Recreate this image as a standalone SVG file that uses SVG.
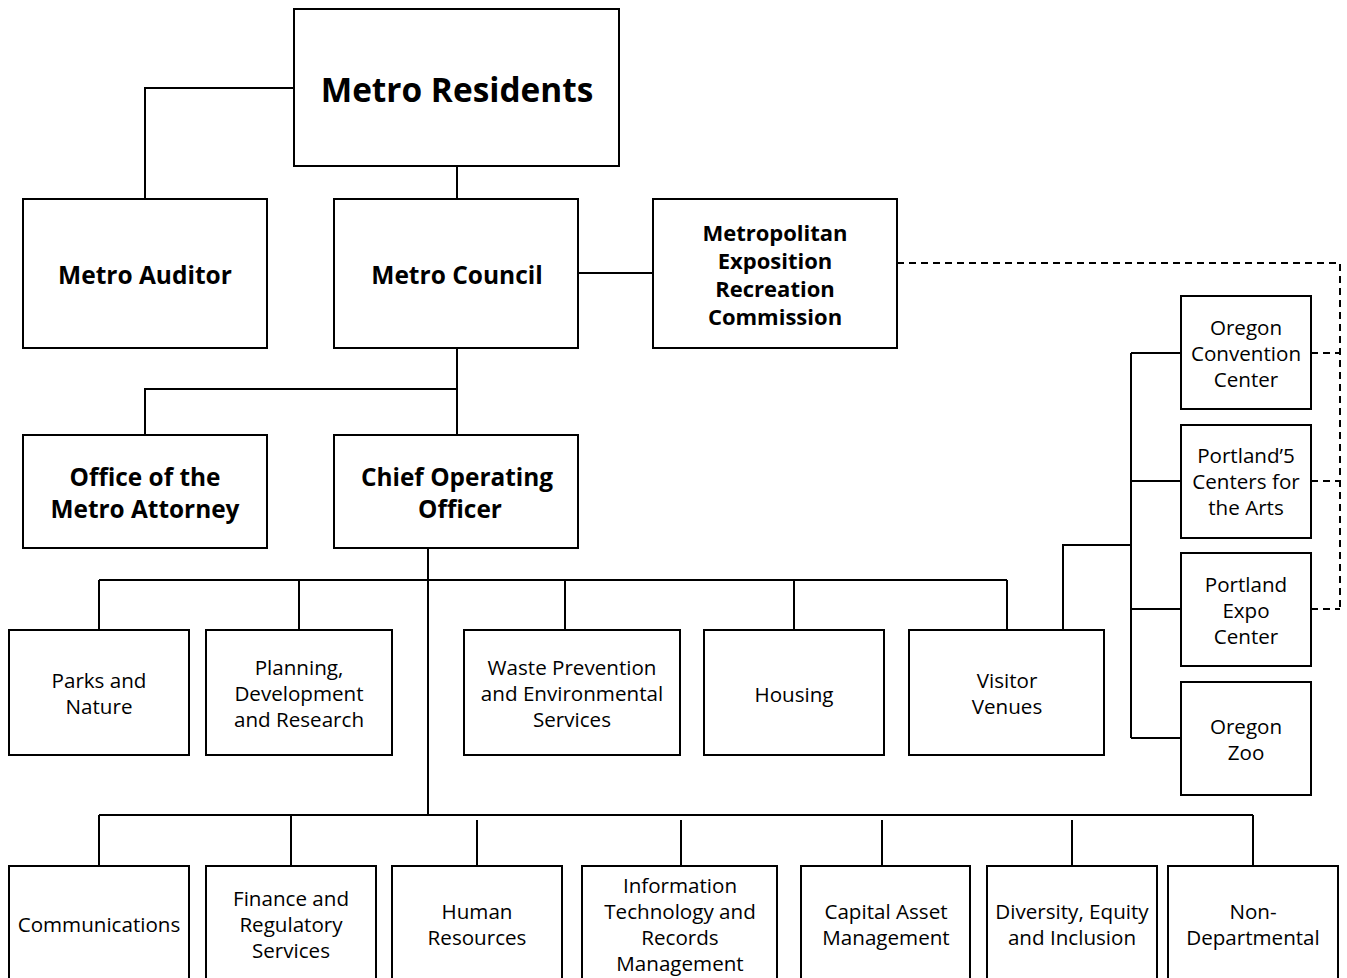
<svg xmlns="http://www.w3.org/2000/svg" width="1347" height="978" viewBox="0 0 1347 978">
<style>
.box{fill:#fff;stroke:#000;stroke-width:2}
.ln{fill:none;stroke:#000;stroke-width:2}
.dash{fill:none;stroke:#000;stroke-width:2;stroke-dasharray:7 5}
text{font-family:"Open Sans","Liberation Sans",sans-serif;fill:#000;text-anchor:middle}
.b{font-weight:bold;font-size:24.5px}
.r{font-size:20.6px}
</style>
<rect width="1347" height="978" fill="#fff"/>
<g id="connectors">
<polyline class="ln" points="294,88 145,88 145,199"/>
<line class="ln" x1="457" y1="166" x2="457" y2="199"/>
<line class="ln" x1="578" y1="273" x2="653" y2="273"/>
<line class="ln" x1="457" y1="348" x2="457" y2="435"/>
<polyline class="ln" points="457,389 145,389 145,435"/>
<line class="ln" x1="428" y1="548" x2="428" y2="815"/>
<line class="ln" x1="99" y1="580" x2="1007" y2="580"/>
<line class="ln" x1="99" y1="580" x2="99" y2="630"/>
<line class="ln" x1="299" y1="580" x2="299" y2="630"/>
<line class="ln" x1="565" y1="580" x2="565" y2="630"/>
<line class="ln" x1="794" y1="580" x2="794" y2="630"/>
<line class="ln" x1="1007" y1="580" x2="1007" y2="630"/>
<polyline class="ln" points="1063,630 1063,545 1131,545"/>
<line class="ln" x1="1131" y1="353" x2="1131" y2="738"/>
<line class="ln" x1="1131" y1="353" x2="1181" y2="353"/>
<line class="ln" x1="1131" y1="481" x2="1181" y2="481"/>
<line class="ln" x1="1131" y1="609" x2="1181" y2="609"/>
<line class="ln" x1="1131" y1="738" x2="1181" y2="738"/>
<polyline class="dash" points="897,263 1340,263 1340,609"/>
<line class="dash" x1="1311" y1="353" x2="1340" y2="353"/>
<line class="dash" x1="1311" y1="481" x2="1340" y2="481"/>
<line class="dash" x1="1311" y1="609" x2="1340" y2="609"/>
<line class="ln" x1="99" y1="815" x2="1253" y2="815"/>
<line class="ln" x1="99" y1="815" x2="99" y2="866"/>
<line class="ln" x1="291" y1="815" x2="291" y2="866"/>
<line class="ln" x1="477" y1="820" x2="477" y2="866"/>
<line class="ln" x1="681" y1="820" x2="681" y2="866"/>
<line class="ln" x1="882" y1="820" x2="882" y2="866"/>
<line class="ln" x1="1072" y1="820" x2="1072" y2="866"/>
<line class="ln" x1="1253" y1="815" x2="1253" y2="866"/>
</g>
<g id="metro-residents"><rect class="box" x="294" y="9" width="325" height="157"/><text x="457" y="102" font-weight="bold" font-size="33.4">Metro Residents</text></g>
<g id="metro-auditor"><rect class="box" x="23" y="199" width="244" height="149"/><text class="b" x="145" y="284">Metro Auditor</text></g>
<g id="metro-council"><rect class="box" x="334" y="199" width="244" height="149"/><text class="b" x="457" y="284">Metro Council</text></g>
<g id="merc"><rect class="box" x="653" y="199" width="244" height="149"/><text class="b" x="775" style="font-size:22px"><tspan x="775" y="241">Metropolitan</tspan><tspan x="775" y="269">Exposition</tspan><tspan x="775" y="297">Recreation</tspan><tspan x="775" y="325">Commission</tspan></text></g>
<g id="metro-attorney"><rect class="box" x="23" y="435" width="244" height="113"/><text class="b" x="145" style="font-size:24.4px"><tspan x="145" y="486">Office of the</tspan><tspan x="145" y="518">Metro Attorney</tspan></text></g>
<g id="coo"><rect class="box" x="334" y="435" width="244" height="113"/><text class="b" x="457" style="font-size:24.4px"><tspan x="457" y="486">Chief Operating</tspan><tspan x="460" y="518">Officer</tspan></text></g>
<g id="parks"><rect class="box" x="9" y="630" width="180" height="125"/><text class="r"><tspan x="99" y="688">Parks and</tspan><tspan x="99" y="714">Nature</tspan></text></g>
<g id="planning"><rect class="box" x="206" y="630" width="186" height="125"/><text class="r"><tspan x="299" y="675">Planning,</tspan><tspan x="299" y="701">Development</tspan><tspan x="299" y="727">and Research</tspan></text></g>
<g id="waste"><rect class="box" x="464" y="630" width="216" height="125"/><text class="r"><tspan x="572" y="675">Waste Prevention</tspan><tspan x="572" y="701">and Environmental</tspan><tspan x="572" y="727">Services</tspan></text></g>
<g id="housing"><rect class="box" x="704" y="630" width="180" height="125"/><text class="r" x="794" y="702">Housing</text></g>
<g id="visitor-venues"><rect class="box" x="909" y="630" width="195" height="125"/><text class="r"><tspan x="1007" y="688">Visitor</tspan><tspan x="1007" y="714">Venues</tspan></text></g>
<g id="occ"><rect class="box" x="1181" y="296" width="130" height="113"/><text class="r"><tspan x="1246" y="335">Oregon</tspan><tspan x="1246" y="361">Convention</tspan><tspan x="1246" y="387">Center</tspan></text></g>
<g id="portland5"><rect class="box" x="1181" y="425" width="130" height="113"/><text class="r"><tspan x="1246" y="463">Portland’5</tspan><tspan x="1246" y="489">Centers for</tspan><tspan x="1246" y="515">the Arts</tspan></text></g>
<g id="expo"><rect class="box" x="1181" y="553" width="130" height="113"/><text class="r"><tspan x="1246" y="592">Portland</tspan><tspan x="1246" y="618">Expo</tspan><tspan x="1246" y="644">Center</tspan></text></g>
<g id="zoo"><rect class="box" x="1181" y="682" width="130" height="113"/><text class="r"><tspan x="1246" y="734">Oregon</tspan><tspan x="1246" y="760">Zoo</tspan></text></g>
<g id="communications"><rect class="box" x="9" y="866" width="180" height="130"/><text class="r" x="99" y="932">Communications</text></g>
<g id="finance"><rect class="box" x="206" y="866" width="170" height="130"/><text class="r"><tspan x="291" y="906">Finance and</tspan><tspan x="291" y="932">Regulatory</tspan><tspan x="291" y="958">Services</tspan></text></g>
<g id="hr"><rect class="box" x="392" y="866" width="170" height="130"/><text class="r"><tspan x="477" y="919">Human</tspan><tspan x="477" y="945">Resources</tspan></text></g>
<g id="it"><rect class="box" x="582" y="866" width="195" height="130"/><text class="r"><tspan x="680" y="893">Information</tspan><tspan x="680" y="919">Technology and</tspan><tspan x="680" y="945">Records</tspan><tspan x="680" y="971">Management</tspan></text></g>
<g id="capital"><rect class="box" x="801" y="866" width="169" height="130"/><text class="r"><tspan x="886" y="919">Capital Asset</tspan><tspan x="886" y="945">Management</tspan></text></g>
<g id="diversity"><rect class="box" x="987" y="866" width="170" height="130"/><text class="r"><tspan x="1072" y="919">Diversity, Equity</tspan><tspan x="1072" y="945">and Inclusion</tspan></text></g>
<g id="nondept"><rect class="box" x="1168" y="866" width="170" height="130"/><text class="r"><tspan x="1253" y="919">Non-</tspan><tspan x="1253" y="945">Departmental</tspan></text></g>
</svg>
